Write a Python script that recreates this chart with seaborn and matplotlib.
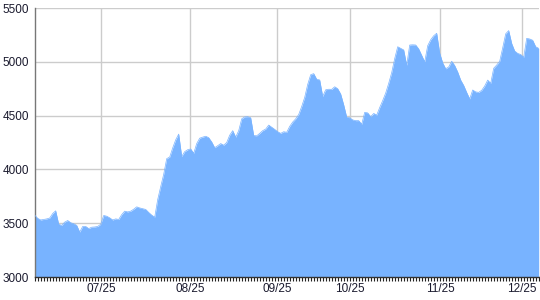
import numpy as np
import pandas as pd
import matplotlib
matplotlib.use("Agg")
import matplotlib.pyplot as plt
import seaborn as sns

values = [
    3575, 3545, 3530, 3535, 3540, 3548, 3590, 3615, 3490, 3480,
    3510, 3525, 3505, 3495, 3480, 3418, 3470, 3470, 3450, 3463,
    3465, 3470, 3490, 3572, 3565, 3550, 3530, 3540, 3535, 3580,
    3612, 3605, 3612, 3630, 3652, 3642, 3635, 3628, 3600, 3575,
    3556, 3720, 3840, 3955, 4100, 4115, 4200, 4275, 4328, 4120,
    4165, 4183, 4190, 4150, 4240, 4290, 4300, 4308, 4295, 4255,
    4202, 4220, 4240, 4225, 4250, 4318, 4360, 4300, 4360, 4470,
    4488, 4490, 4480, 4315, 4312, 4335, 4360, 4375, 4412, 4392,
    4372, 4350, 4335, 4350, 4345, 4400, 4440, 4470, 4510, 4585,
    4670, 4790, 4880, 4890, 4838, 4831, 4678, 4740, 4745, 4744,
    4768, 4750, 4700, 4600, 4485, 4480, 4460, 4453, 4453, 4420,
    4530, 4525, 4490, 4520, 4505, 4575, 4640, 4710, 4800, 4900,
    5030, 5140, 5125, 5110, 4968, 5156, 5158, 5156, 5120, 5060,
    5000, 5150, 5205, 5242, 5265, 5080, 4990, 4935, 4952, 5005,
    4965, 4905, 4830, 4780, 4715, 4655, 4738, 4720, 4716, 4735,
    4775, 4830, 4800, 4940, 4970, 5005, 5130, 5260, 5290, 5170,
    5100, 5078, 5068, 5042, 5218, 5212, 5200, 5140, 5125,
]
tick_labels = ["07/25", "08/25", "09/25", "10/25", "11/25", "12/25"]
tick_pos = [22.2, 51.9, 80.7, 105.2, 135.2, 162.5]
y_ticks = [3000, 3500, 4000, 4500, 5000, 5500]

df = pd.DataFrame({"i": np.arange(len(values)), "v": values})

sns.set_theme(style="white")
plt.rcParams["font.family"] = ["Liberation Sans", "DejaVu Sans"]

fig = plt.figure(figsize=(5.4, 3.0), dpi=100)
ax = fig.add_axes([34.7 / 540, 23 / 300, 504 / 540, 269 / 300])

color = "#78b3ff"
ax.fill_between(df["i"], 3000, df["v"], color=color, lw=0, zorder=2)
sns.lineplot(data=df, x="i", y="v", ax=ax, color=color, lw=0.5, zorder=3)

ax.set_xlim(0, len(values) - 1)
ax.set_ylim(3000, 5500)
ax.set_yticks(y_ticks)
ax.set_yticklabels([str(t) for t in y_ticks])
ax.set_xticks(tick_pos)
ax.set_xticklabels(tick_labels)
ax.set_xticks(np.arange(len(values)), minor=True)
ax.set_xlabel("")
ax.set_ylabel("")

ax.grid(True, which="major", color="#cccccc", lw=1, zorder=1)
ax.set_axisbelow(True)

ax.tick_params(axis="x", which="major", bottom=True, length=0, pad=4,
               labelsize=8.5, colors="#1a1a2e")
ax.tick_params(axis="x", which="minor", bottom=True, length=3, width=0.8,
               color="#222222", direction="out")
ax.tick_params(axis="y", left=False, length=0, pad=4, labelsize=8.5, colors="#1a1a2e")

for s in ["top", "right"]:
    ax.spines[s].set_visible(False)
ax.spines["left"].set_color("#777777")
ax.spines["left"].set_linewidth(1)
ax.spines["bottom"].set_color("#333333")
ax.spines["bottom"].set_linewidth(1)

fig.savefig("out.png", dpi=100)
